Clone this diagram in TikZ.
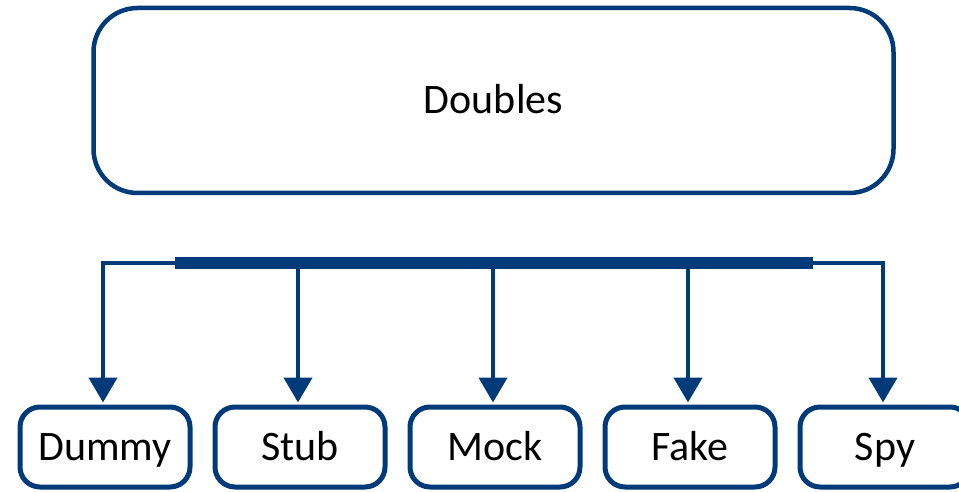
\documentclass[tikz,border=0pt]{standalone}
\usepackage{fontspec}
\setmainfont{Carlito}
\usetikzlibrary{arrows.meta}
\definecolor{navy}{RGB}{0,58,120}
\begin{document}
\begin{tikzpicture}[x=1pt,y=-1pt,
  label font/.style={font=\fontsize{42}{48}\selectfont, text height=27pt, text depth=0pt},
  topbox/.style={draw=navy, line width=4.5pt, rounded corners=44pt, fill=white,
    minimum width=800pt, minimum height=185pt, inner sep=0pt, label font},
  leafbox/.style={draw=navy, line width=5pt, rounded corners=20pt, fill=white,
    minimum width=170pt, minimum height=80pt, inner sep=0pt, label font},
  branch/.style={draw=navy, line width=4.5pt},
  feed/.style={branch, -{Triangle[width=28pt,length=25pt]}, shorten >=2pt},
  spine/.style={draw=navy, line width=12pt}]
  \useasboundingbox (0,0) rectangle (959,492);

  % parent node
  \node[topbox] (doubles) at (493.5,100.5) {Doubles};

  % child nodes
  \node[leafbox] (dummy) at (105,447) {Dummy};
  \node[leafbox] (stub)  at (300,447) {Stub};
  \node[leafbox] (mock)  at (495,447) {Mock};
  \node[leafbox] (fake)  at (690,447) {Fake};
  \node[leafbox] (spy)   at (885,447) {Spy};

  % branch points on the distribution bar
  \coordinate (j1) at (103,263);
  \coordinate (j2) at (298,263);
  \coordinate (j3) at (493,263);
  \coordinate (j4) at (688,263);
  \coordinate (j5) at (883,263);
  \coordinate (s1) at (175,263);
  \coordinate (s2) at (813,263);

  % thin outer run and thick spine
  \draw[branch, line join=miter] (j1 |- 0,265) -- (j1) -- (j5) -- (j5 |- 0,265);
  \draw[spine] (s1) -- (s2);

  % arrows down to each child
  \draw[feed] (j1) -- (dummy.north -| j1);
  \draw[feed] (j2) -- (stub.north -| j2);
  \draw[feed] (j3) -- (mock.north -| j3);
  \draw[feed] (j4) -- (fake.north -| j4);
  \draw[feed] (j5) -- (spy.north -| j5);
\end{tikzpicture}
\end{document}
